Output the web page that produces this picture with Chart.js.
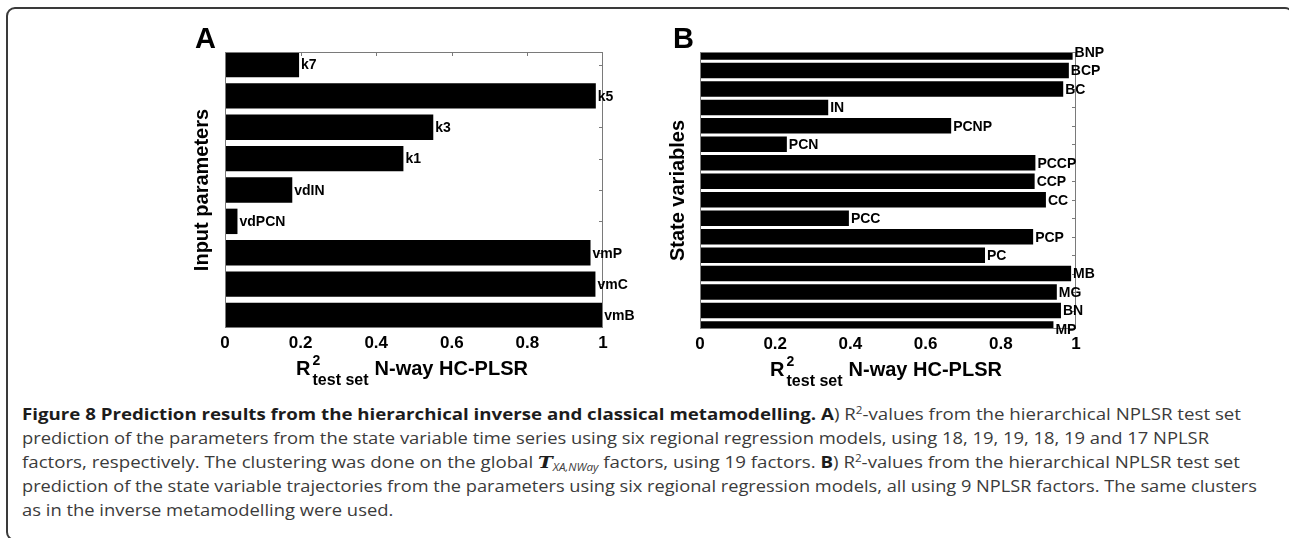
<!DOCTYPE html>
<html>
<head>
<meta charset="utf-8">
<script src="https://cdn.jsdelivr.net/npm/chart.js@4.4.1/dist/chart.umd.min.js"></script>
<style>
  html, body { margin: 0; padding: 0; background: #fff; }
  body { width: 1289px; height: 538px; position: relative; overflow: hidden; }
  #frame { position: absolute; left: 6px; top: 7px; width: 1288px; height: 534px;
           border: 2px solid #3a3a3a; border-radius: 9px; box-sizing: border-box; }
  canvas.panel { position: absolute; top: 0; }
  #panelA { left: 150px; }
  #panelB { left: 640px; }
  #caption { position: absolute; left: 22px; top: 402px; font-family: "Open Sans", "Noto Sans", sans-serif;
             font-size: 16px; color: #3b3b3b; }
  #caption .ln { height: 24px; line-height: 24px; white-space: nowrap; transform-origin: 0 50%; }
  #caption b { color: #1c1c1c; font-weight: 700; }
  #caption sup { font-size: 10px; line-height: 0; vertical-align: 6px; }
  #caption .tx { font-family: "DejaVu Serif", "Liberation Serif", serif; font-weight: bold; font-style: italic; font-size: 17px; color: #1c1c1c; }
  #caption sub { font-size: 10px; font-style: italic; line-height: 0; vertical-align: -3px; }
</style>
</head>
<body>
<div id="frame"></div>
<canvas id="panelA" class="panel" width="490" height="400"></canvas>
<canvas id="panelB" class="panel" width="490" height="400"></canvas>
<div id="caption">
  <div class="ln" data-end="1241"><b>Figure 8 Prediction results from the hierarchical inverse and classical metamodelling. A</b>) R<sup>2</sup>-values from the hierarchical NPLSR test set</div>
  <div class="ln" data-end="1209">prediction of the parameters from the state variable time series using six regional regression models, using 18, 19, 19, 18, 19 and 17 NPLSR</div>
  <div class="ln" data-end="1240">factors, respectively. The clustering was done on the global <span class="tx">T</span><sub>XA,NWay</sub> factors, using 19 factors. <b>B</b>) R<sup>2</sup>-values from the hierarchical NPLSR test set</div>
  <div class="ln" data-end="1257">prediction of the state variable trajectories from the parameters using six regional regression models, all using 9 NPLSR factors. The same clusters</div>
  <div class="ln">as in the inverse metamodelling were used.</div>
</div>
<script>
// Panel A: inverse metamodel, test-set R² per input parameter (top to bottom)
const paramNames = ['k7', 'k5', 'k3', 'k1', 'vdIN', 'vdPCN', 'vmP', 'vmC', 'vmB'];
const paramR2    = [0.196, 0.981, 0.551, 0.472, 0.178, 0.033, 0.967, 0.980, 0.998];

// Panel B: classical metamodel, test-set R² per state variable (top to bottom)
const stateNames = ['BNP', 'BCP', 'BC', 'IN', 'PCNP', 'PCN', 'PCCP', 'CCP', 'CC', 'PCC', 'PCP', 'PC', 'MB', 'MG', 'BN', 'MP'];
const stateR2    = [0.991, 0.981, 0.966, 0.341, 0.668, 0.231, 0.892, 0.890, 0.920, 0.396, 0.886, 0.758, 0.987, 0.949, 0.960, 0.940];

// Shared R² axis
const xTickValues = [0, 0.2, 0.4, 0.6, 0.8, 1];
const xTickLabels = ['0', '0.2', '0.4', '0.6', '0.8', '1'];
const xTitle = { symbol: 'R', sup: '2', sub: 'test set', rest: 'N-way HC-PLSR' };

const FONT = '"Liberation Sans", Arial, Helvetica, sans-serif';
const AXIS_GREY = '#7a7a7a';

// Draws the MATLAB-style axes box, inward tick marks, bar-end labels,
// panel letter and the composite R² axis title.
function panelDecorations(spec) {
  return {
    id: 'panelDecorations',
    beforeDatasetsDraw(chart) {
      const { ctx, chartArea: a, scales } = chart;
      ctx.save();
      ctx.strokeStyle = AXIS_GREY;
      ctx.lineWidth = 1;
      ctx.beginPath();
      scales.x.ticks.forEach(t => {
        if (t.value <= scales.x.min || t.value >= scales.x.max) return;
        const px = Math.round(scales.x.getPixelForValue(t.value)) + 0.5;
        ctx.moveTo(px, a.top); ctx.lineTo(px, a.top + 4);
        ctx.moveTo(px, a.bottom); ctx.lineTo(px, a.bottom - 4);
      });
      scales.y.ticks.forEach(t => {
        if (t.value <= scales.y.min || t.value >= scales.y.max) return;
        const py = Math.round(scales.y.getPixelForValue(t.value)) + 0.5;
        ctx.moveTo(a.left, py); ctx.lineTo(a.left + 4, py);
        ctx.moveTo(a.right, py); ctx.lineTo(a.right - 4, py);
      });
      ctx.stroke();
      ctx.restore();
    },
    afterDatasetsDraw(chart) {
      const { ctx, chartArea: a } = chart;
      ctx.save();
      // axes box
      ctx.strokeStyle = AXIS_GREY;
      ctx.lineWidth = 1;
      ctx.strokeRect(Math.round(a.left) + 0.5, Math.round(a.top) + 0.5,
                     Math.round(a.right - a.left) - 1, Math.round(a.bottom - a.top) - 1);

      // labels at the end of each bar
      const meta = chart.getDatasetMeta(0);
      ctx.fillStyle = '#000';
      ctx.font = 'bold 14px ' + FONT;
      ctx.textAlign = 'left';
      ctx.textBaseline = 'middle';
      meta.data.forEach((bar, i) => {
        ctx.fillText(spec.names[i], bar.x + 2, bar.y + 1);
      });

      // panel letter
      ctx.font = 'bold 29px ' + FONT;
      ctx.textBaseline = 'alphabetic';
      ctx.fillText(spec.letter, a.left + spec.letterDx, a.top - 4);

      // x-axis title: R with superscript 2 and subscript "test set"
      const fMain = 'bold 20px ' + FONT, fSup = 'bold 14px ' + FONT, fSub = 'bold 16px ' + FONT;
      ctx.font = fMain; const wR = ctx.measureText(xTitle.symbol).width;
      const wRest = ctx.measureText(xTitle.rest).width;
      ctx.font = fSub; const wSub = ctx.measureText(xTitle.sub).width;
      const total = wR + 2 + wSub + 6 + wRest;
      let x = (a.left + a.right) / 2 - total / 2 - 2;
      const base = a.bottom + 47;
      ctx.font = fMain; ctx.fillText(xTitle.symbol, x, base);
      x += wR + 2;
      ctx.font = fSup; ctx.fillText(xTitle.sup, x, base - 10);
      ctx.font = fSub; ctx.fillText(xTitle.sub, x, base + 10);
      x += wSub + 6;
      ctx.font = fMain; ctx.fillText(xTitle.rest, x, base);
      ctx.restore();
    }
  };
}

function buildPanel(canvas, spec) {
  const points = spec.values.map((v, i) => ({ x: v, y: i + 1 }));
  const rowTicks = spec.names.map((_, i) => ({ value: i + 1 }));
  return new Chart(canvas, {
    type: 'bar',
    data: {
      labels: spec.names,
      datasets: [{
        data: points,
        backgroundColor: '#000',
        borderWidth: 0,
        categoryPercentage: 1,
        barPercentage: spec.barFraction,
        clip: 0
      }]
    },
    options: {
      indexAxis: 'y',
      responsive: false,
      animation: false,
      layout: { padding: { left: 0, top: 52, right: spec.padRight, bottom: 0 } },
      plugins: { legend: { display: false }, tooltip: { enabled: false } },
      scales: {
        x: {
          type: 'linear', min: 0, max: 1,
          afterBuildTicks: s => { s.ticks = xTickValues.map(v => ({ value: v })); },
          ticks: {
            callback: (v, i) => xTickLabels[i],
            font: { family: FONT, size: 17, weight: 'bold' },
            color: '#000', padding: 5, maxRotation: 0, autoSkip: false
          },
          grid: { display: false, drawTicks: false },
          border: { display: false },
          afterFit: s => { s.height = spec.xAxisHeight; }
        },
        y: {
          type: 'linear', reverse: true, offset: false, min: spec.yMin, max: spec.yMax,
          // one tick per row; the axis limits stay at the requested range
          afterBuildTicks: s => { s.ticks = rowTicks; s.min = spec.yMin; s.max = spec.yMax; },
          ticks: { display: false },
          grid: { display: false, drawTicks: false, offset: false },
          border: { display: false },
          title: {
            display: true, text: spec.yTitle, color: '#000',
            font: { family: FONT, size: 20, weight: 'bold' },
            padding: { top: spec.yTitlePad, bottom: 0 }
          },
          afterFit: s => { s.width = spec.yAxisWidth; }
        }
      }
    },
    plugins: [panelDecorations(spec)]
  });
}

buildPanel(document.getElementById('panelA'), {
  names: paramNames, values: paramR2, letter: 'A', letterDx: -30,
  yTitle: 'Input parameters', yMin: 0.6, yMax: 9.4, barFraction: 0.81,
  yAxisWidth: 75, xAxisHeight: 72, padRight: 37, yTitlePad: 40
});

buildPanel(document.getElementById('panelB'), {
  names: stateNames, values: stateR2, letter: 'B', letterDx: -27,
  yTitle: 'State variables', yMin: 1, yMax: 16, barFraction: 0.84,
  yAxisWidth: 60, xAxisHeight: 71, padRight: 54, yTitlePad: 26
});

// Each caption line is stretched to end at its column position;
// lines without an end use the scale of the second line.
(function fitCaption() {
  const lines = Array.from(document.querySelectorAll('#caption .ln'));
  const left = 22;
  const widthOf = el => { const r = document.createRange(); r.selectNodeContents(el); return r.getBoundingClientRect().width; };
  const scales = lines.map(l => l.dataset.end ? (Number(l.dataset.end) - left) / widthOf(l) : null);
  lines.forEach((l, i) => {
    const s = scales[i] !== null ? scales[i] : scales[1];
    l.style.transform = 'scaleX(' + s.toFixed(4) + ')';
  });
})();
</script>
</body>
</html>
